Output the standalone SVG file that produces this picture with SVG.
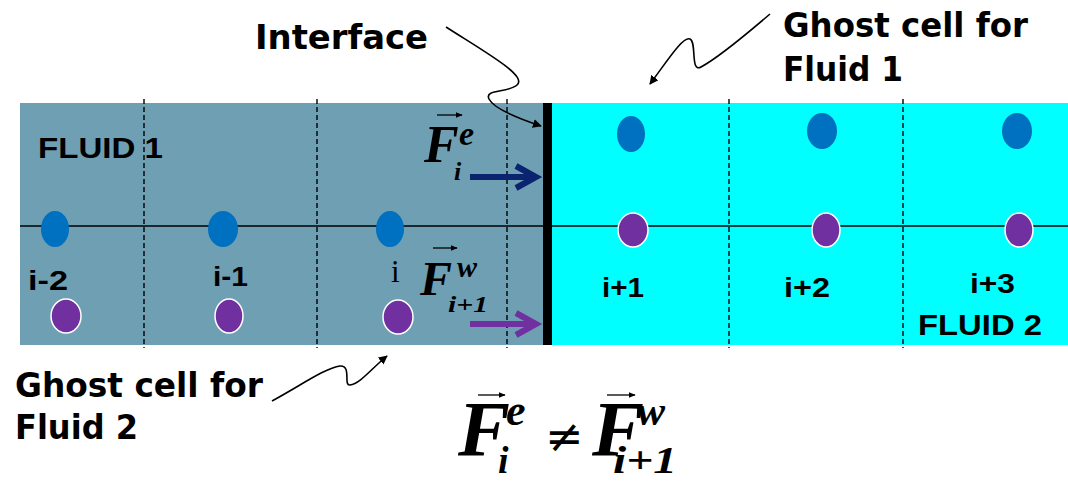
<svg xmlns="http://www.w3.org/2000/svg" width="1068" height="481" viewBox="0 0 1068 481">
<defs>
<marker id="ah" viewBox="0 0 10 10" refX="9" refY="5" markerWidth="9" markerHeight="9" markerUnits="userSpaceOnUse" orient="auto">
<path d="M0,0 L10,5 L0,10 z" fill="#000"/>
</marker>
<marker id="vh" viewBox="0 0 10 10" refX="9" refY="5" markerWidth="7" markerHeight="7" markerUnits="userSpaceOnUse" orient="auto">
<path d="M0,1 L10,5 L0,9 z" fill="#000"/>
</marker>
<style>
.lbl{font-family:"DejaVu Sans","Liberation Sans",sans-serif;font-weight:bold;fill:#000}
.idx{font-family:"Liberation Sans","DejaVu Sans",sans-serif;font-weight:bold;fill:#000}
.mth{font-family:"Liberation Serif","DejaVu Serif",serif;font-weight:bold;font-style:italic;fill:#000}
.dash{stroke:#000;stroke-width:1.4;stroke-dasharray:5,3;fill:none}
.blue{fill:#0070C0}
.purp{fill:#7030A0;stroke:#fff;stroke-width:1.5}
.conn{fill:none;stroke:#000;stroke-width:1.6;marker-end:url(#ah)}
.vec{fill:none;stroke:#000;stroke-width:1.3;marker-end:url(#vh)}
</style>
</defs>

<g id="domain">
<rect x="20" y="103" width="523" height="242" fill="#6F9FB3"/>
<rect x="552" y="103" width="516" height="242" fill="#00FFFF"/>
<line x1="20" y1="226" x2="1068" y2="226" stroke="#000" stroke-width="1.5"/>
<line class="dash" x1="144" y1="99" x2="144" y2="348"/>
<line class="dash" x1="317" y1="99" x2="317" y2="348"/>
<line class="dash" x1="507" y1="99" x2="507" y2="348"/>
<line class="dash" x1="729" y1="99" x2="729" y2="348"/>
<line class="dash" x1="903" y1="99" x2="903" y2="348"/>
</g>

<g id="interface-wall">
<rect x="543" y="103" width="9" height="242" fill="#000"/>
</g>

<g id="cell-i-2">
<ellipse class="blue" cx="55" cy="229" rx="14" ry="18"/>
<ellipse class="purp" cx="66" cy="316" rx="15" ry="17"/>
<text class="idx" x="28" y="290" font-size="28" textLength="40" lengthAdjust="spacingAndGlyphs">i-2</text>
</g>
<g id="cell-i-1">
<ellipse class="blue" cx="223" cy="229" rx="15" ry="18"/>
<ellipse class="purp" cx="229" cy="316" rx="14" ry="17"/>
<text class="idx" x="213" y="286" font-size="28" textLength="35" lengthAdjust="spacingAndGlyphs">i-1</text>
</g>
<g id="cell-i">
<ellipse class="blue" cx="390" cy="229" rx="14" ry="18"/>
<ellipse class="purp" cx="398" cy="317" rx="15" ry="17"/>
<text x="391" y="282" font-size="31" font-family="Liberation Serif,serif" fill="#000">i</text>
</g>
<g id="cell-i+1">
<ellipse class="blue" cx="631" cy="134" rx="14" ry="18"/>
<ellipse class="purp" cx="633" cy="230" rx="15" ry="17"/>
<text class="idx" x="602" y="297" font-size="28" textLength="42" lengthAdjust="spacingAndGlyphs">i+1</text>
</g>
<g id="cell-i+2">
<ellipse class="blue" cx="822" cy="131" rx="15" ry="18"/>
<ellipse class="purp" cx="826" cy="230" rx="14" ry="17"/>
<text class="idx" x="784" y="297" font-size="28" textLength="46" lengthAdjust="spacingAndGlyphs">i+2</text>
</g>
<g id="cell-i+3">
<ellipse class="blue" cx="1017" cy="131" rx="15" ry="18"/>
<ellipse class="purp" cx="1019" cy="230" rx="14" ry="17"/>
<text class="idx" x="970" y="293" font-size="28" textLength="45" lengthAdjust="spacingAndGlyphs">i+3</text>
</g>

<g id="fluid1-label">
<text class="idx" x="38" y="158" font-size="30" textLength="125" lengthAdjust="spacingAndGlyphs">FLUID 1</text>
</g>
<g id="fluid2-label">
<text class="idx" x="918" y="335" font-size="30" textLength="124" lengthAdjust="spacingAndGlyphs">FLUID 2</text>
</g>

<g id="interface-label">
<text class="lbl" x="255" y="49" font-size="33" textLength="173" lengthAdjust="spacingAndGlyphs">Interface</text>
</g>
<g id="ghost-fluid1-label">
<text class="lbl" x="783" y="37" font-size="33" textLength="245" lengthAdjust="spacingAndGlyphs">Ghost cell for</text>
<text class="lbl" x="783" y="81" font-size="33" textLength="120" lengthAdjust="spacingAndGlyphs">Fluid 1</text>
</g>
<g id="ghost-fluid2-label">
<text class="lbl" x="15" y="397" font-size="33" textLength="248" lengthAdjust="spacingAndGlyphs">Ghost cell for</text>
<text class="lbl" x="15" y="439" font-size="33" textLength="123" lengthAdjust="spacingAndGlyphs">Fluid 2</text>
</g>

<g id="flux-east">
<text class="mth" x="424" y="162" font-size="52">F<tspan x="459" y="145" font-size="34">e</tspan><tspan x="454" y="180" font-size="26">i</tspan></text>
<line class="vec" x1="437" y1="115" x2="462" y2="115"/>
</g>
<g id="flux-west">
<text class="mth" x="420" y="295" font-size="48">F<tspan x="457" y="277" font-size="30">w</tspan><tspan x="448" y="312" font-size="24" textLength="40" lengthAdjust="spacingAndGlyphs">i+1</tspan></text>
<line class="vec" x1="433" y1="248" x2="457" y2="248"/>
</g>

<g id="equation">
<text class="mth" x="458" y="455" font-size="78">F<tspan x="506" y="425" font-size="44">e</tspan><tspan x="498" y="473" font-size="38">i</tspan><tspan x="545" y="452" font-size="46" font-style="normal" font-weight="normal" font-family="DejaVu Serif,serif">≠</tspan><tspan x="592" y="455">F</tspan><tspan x="637" y="425" font-size="42">w</tspan><tspan x="613" y="473" font-size="38" textLength="64" lengthAdjust="spacingAndGlyphs">i+1</tspan></text>
<line class="vec" x1="478" y1="395" x2="505" y2="395"/>
<line class="vec" x1="607" y1="395" x2="635" y2="395"/>
</g>

<g id="connectors">
<path class="conn" d="M446,27 C485,52 528,76 517,85 C508,93 484,89 489,99 C494,109 520,119 541,126"/>
<path class="conn" d="M770,14 C742,38 714,60 701,67 C690,73 697,42 690,39 C683,36 668,60 650,84"/>
<path class="conn" d="M272,401 C300,386 325,368 340,366 C352,365 343,386 350,385 C360,384 372,368 387,356"/>
<path d="M470,177 H533 M516,166 L536,177 L516,188" fill="none" stroke="#0A2470" stroke-width="6"/>
<path d="M470,324 H533 M516,313 L536,324 L516,335" fill="none" stroke="#7030A0" stroke-width="6"/>
</g>
</svg>
